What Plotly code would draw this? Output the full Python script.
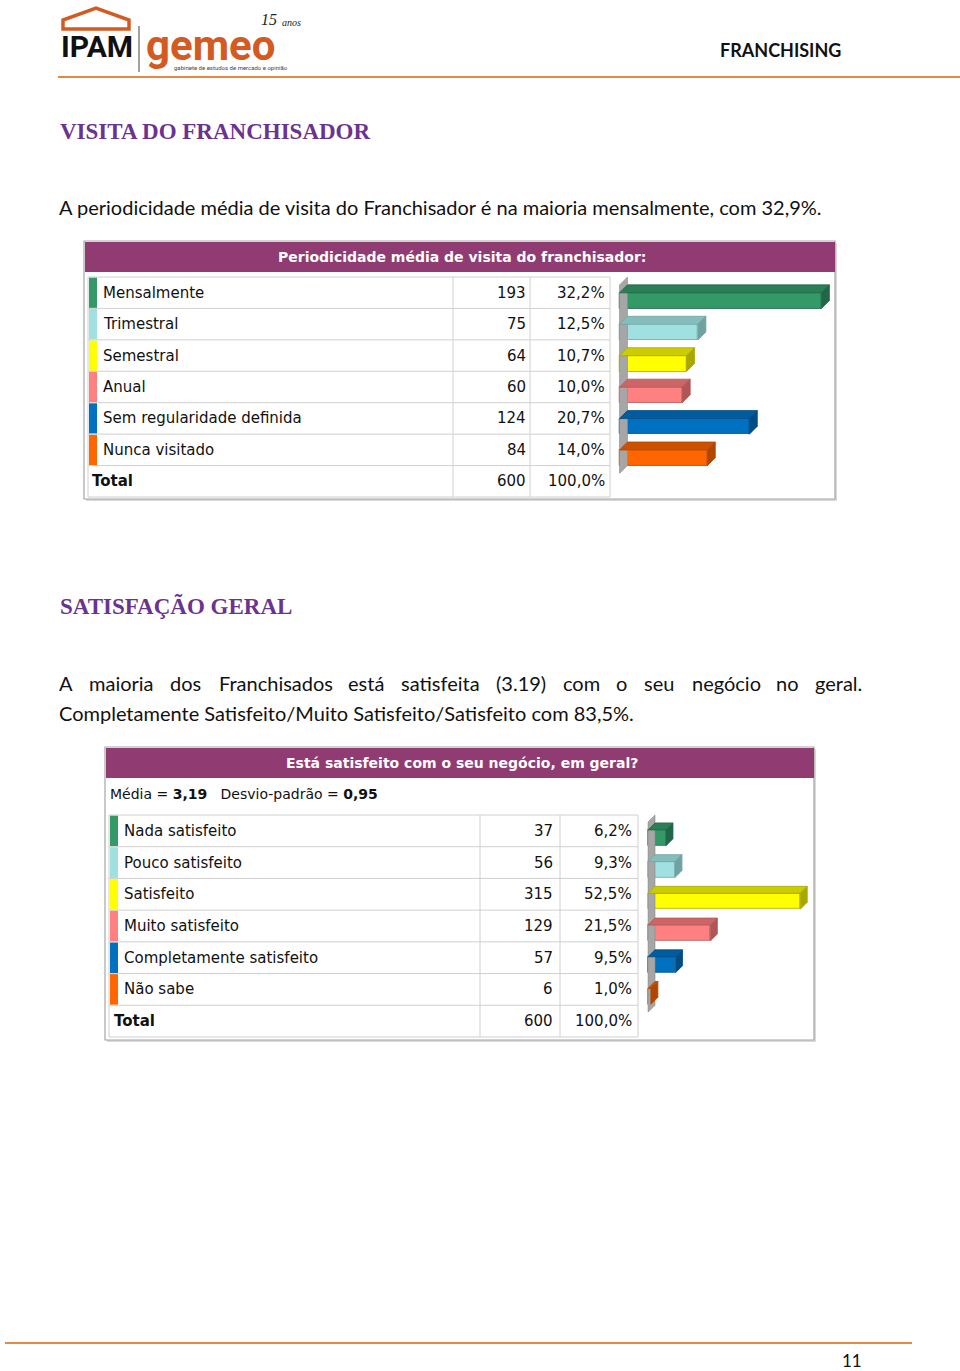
import plotly.graph_objects as go

# ---------------- DATA ----------------
visit_title = "Periodicidade média de visita do franchisador:"
visit_labels = ["Mensalmente", "Trimestral", "Semestral", "Anual",
                "Sem regularidade definida", "Nunca visitado"]
visit_counts = [193, 75, 64, 60, 124, 84]
visit_pcts = [32.2, 12.5, 10.7, 10.0, 20.7, 14.0]
visit_total = 600
visit_total_pct = 100.0

sat_title = "Está satisfeito com o seu negócio, em geral?"
sat_labels = ["Nada satisfeito", "Pouco satisfeito", "Satisfeito",
              "Muito satisfeito", "Completamente satisfeito", "Não sabe"]
sat_counts = [37, 56, 315, 129, 57, 6]
sat_pcts = [6.2, 9.3, 52.5, 21.5, 9.5, 1.0]
sat_total = 600
sat_total_pct = 100.0
sat_mean = "3,19"
sat_sd = "0,95"

# ---------------- STYLE ----------------
W, H = 960, 1371
front_colors = ["#339966", "#A0E0E0", "#FFFF00", "#FF8080", "#0070C0", "#FF6600"]
top_colors = ["#2B7F56", "#85BDBD", "#CCCC00", "#CC6666", "#005C9E", "#CC5200"]
side_colors = ["#22664A", "#6FA3A3", "#A8A800", "#B05656", "#004D85", "#B04700"]
PURPLE_HDR = "#913B73"
HEAD_PURPLE = "#6B3391"
ORANGE = "#E38B45"
LOGO_OR = "#D35B22"
TBL_FONT = "DejaVu Sans"
BODY_FONT = "Lato"

fig = go.Figure()
shapes = []
annos = []


def fmt_pct(p):
    return f"{p:.1f}".replace(".", ",") + "%"


def text(x, y, s, size=15, color="#111", family=TBL_FONT, anchor="left", bold=False):
    if bold:
        s = f"<b>{s}</b>"
    annos.append(dict(x=x, y=y, xref="x", yref="y", text=s, showarrow=False,
                      xanchor=anchor, yanchor="middle",
                      font=dict(size=size, color=color, family=family)))


def rect(x0, y0, x1, y1, fill=None, line=None, lw=1):
    shapes.append(dict(type="rect", xref="x", yref="y", x0=x0, y0=y0, x1=x1, y1=y1,
                       fillcolor=fill or "rgba(0,0,0,0)",
                       line=dict(color=line or "rgba(0,0,0,0)", width=lw if line else 0),
                       layer="below"))


def hline(x0, x1, y, color, w=1):
    shapes.append(dict(type="line", xref="x", yref="y", x0=x0, x1=x1, y0=y, y1=y,
                       line=dict(color=color, width=w)))


def vline(x, y0, y1, color, w=1):
    shapes.append(dict(type="line", xref="x", yref="y", x0=x, x1=x, y0=y0, y1=y1,
                       line=dict(color=color, width=w)))


# ---------------- HEADER / LOGO ----------------
shapes.append(dict(type="path", xref="x", yref="y",
                   path="M 63 29 L 63 20 L 96 8 L 129 20 L 129 29 Z",
                   line=dict(color=LOGO_OR, width=3.5), fillcolor="rgba(0,0,0,0)"))
text(59, 46, "IPAM", size=30, color="#111", family="Roboto", bold=True)
vline(139, 26, 72, "#444", 1)
text(144, 45, "gemeo", size=42, color=LOGO_OR, family="Roboto", bold=True)
text(172, 67, "gabinete de estudos de mercado e opinião", size=6, color="#444", family="Roboto")
text(259, 19, "<i>15</i>", size=16, color="#222", family="Liberation Serif")
text(280, 22, "<i>anos</i>", size=10, color="#222", family="Liberation Serif")
text(843, 50, "FRANCHISING", size=18, color="#111", family=BODY_FONT, anchor="right", bold=True)
hline(58, 960, 77, ORANGE, 2)

# ---------------- SECTION 1 TEXT ----------------
text(58, 131, "VISITA DO FRANCHISADOR", size=23, color=HEAD_PURPLE,
     family="Liberation Serif", bold=True)
text(57, 207, "A periodicidade média de visita do Franchisador é na maioria mensalmente, com 32,9%.",
     size=20, color="#111", family=BODY_FONT)


# ---------------- TABLE HELPER ----------------
def draw_table(box, hdr_h, title, cols, y_top, row_h, labels, counts, pcts,
               total, total_pct, strip_w, label_x, total_x, count_rx, pct_rx):
    bx0, by0, bx1, by1 = box
    rect(bx0 + 2, by0 + 2, bx1 + 2, by1 + 2, fill="#D9D9D9")
    rect(bx0, by0, bx1, by1, fill="white", line="#A6A6A6", lw=1.2)
    rect(bx0 + 1, by0 + 1, bx1, by0 + 1 + hdr_h, fill=PURPLE_HDR)
    text((bx0 + bx1) / 2 + 2, by0 + 1 + hdr_h / 2, title, size=14, color="white",
         bold=True, anchor="center")
    n = len(labels) + 1
    y_bot = y_top + n * row_h
    for k in range(n + 1):
        hline(cols[0], cols[-1], y_top + k * row_h, "#D0D0D0", 1)
    for c in cols:
        vline(c, y_top, y_bot, "#D0D0D0", 1)
    for i, lab in enumerate(labels):
        yc = y_top + (i + 0.5) * row_h
        rect(cols[0] + 1, y_top + i * row_h + 0.5, cols[0] + 1 + strip_w,
             y_top + (i + 1) * row_h - 0.5, fill=front_colors[i])
        text(label_x, yc, lab)
        text(count_rx, yc, str(counts[i]), anchor="right")
        text(pct_rx, yc, fmt_pct(pcts[i]), anchor="right")
    yc = y_top + (n - 0.5) * row_h
    text(total_x, yc, "Total", bold=True)
    text(count_rx, yc, str(total), anchor="right")
    text(pct_rx, yc, fmt_pct(total_pct), anchor="right")


# ---------------- 3D BARS HELPER ----------------
def add_bars(idx, pcts, x0_px, px_per_unit, x1_px, y_top_px, row_h_px, depth_px):
    xa, ya = f"x{idx}", f"y{idx}"
    n = len(pcts)
    dx = depth_px / px_per_unit
    dy = depth_px / row_h_px
    ext = 0.45
    xmax = (x1_px - x0_px) / px_per_unit
    xpad = 0.3
    fig.layout[f"xaxis{idx}"] = dict(
        domain=[(x0_px - xpad * px_per_unit) / W, x1_px / W],
        range=[-xpad, xmax], visible=False, fixedrange=True, anchor=ya)
    top_px = y_top_px - ext * row_h_px
    bot_px = y_top_px + n * row_h_px
    fig.layout[f"yaxis{idx}"] = dict(
        domain=[1 - bot_px / H, 1 - top_px / H],
        range=[n - 0.5, -0.5 - ext], visible=False, fixedrange=True, anchor=xa)
    # back wall
    fig.add_trace(go.Scatter(
        x=[0, dx, dx, 0, 0], y=[-0.5, -0.5 - dy, n - 0.5 - dy, n - 0.5, -0.5],
        fill="toself", fillcolor="#A6A6A6", mode="lines",
        line=dict(color="#8C8C8C", width=0.6), xaxis=xa, yaxis=ya,
        hoverinfo="skip", showlegend=False))
    # front faces
    fig.add_trace(go.Bar(
        x=pcts, y=list(range(n)), orientation="h", width=0.5,
        marker=dict(color=front_colors[:n], line=dict(color=side_colors[:n], width=0.8)),
        xaxis=xa, yaxis=ya, showlegend=False, hoverinfo="skip"))
    for i, v in enumerate(pcts):
        t, b = i - 0.25, i + 0.25
        fig.add_trace(go.Scatter(
            x=[0, v, v + dx, dx, 0], y=[t, t, t - dy, t - dy, t],
            fill="toself", fillcolor=top_colors[i], mode="lines",
            line=dict(color=side_colors[i], width=0.8), xaxis=xa, yaxis=ya,
            hoverinfo="skip", showlegend=False))
        fig.add_trace(go.Scatter(
            x=[v, v + dx, v + dx, v, v], y=[t, t - dy, b - dy, b, t],
            fill="toself", fillcolor=side_colors[i], mode="lines",
            line=dict(color=side_colors[i], width=0.8), xaxis=xa, yaxis=ya,
            hoverinfo="skip", showlegend=False))


# ---------------- TABLE 1 ----------------
row_h1 = (497 - 277) / 7
draw_table((84, 241, 835, 499), 30, visit_title, [88, 453, 530, 610], 277, row_h1,
           visit_labels, visit_counts, visit_pcts, visit_total, visit_total_pct,
           8, 101, 90, 528, 607)
add_bars(2, visit_pcts, 619.5, 6.27, 834, 285, row_h1, 8)

# ---------------- SECTION 2 TEXT ----------------
text(58, 606, "SATISFAÇÃO GERAL", size=23, color=HEAD_PURPLE,
     family="Liberation Serif", bold=True)
para_words = ["A", "maioria", "dos", "Franchisados", "está", "satisfeita", "(3.19)",
              "com", "o", "seu", "negócio", "no", "geral."]
para_x = [57, 87, 168, 217, 346, 399, 494, 561, 614, 642, 690, 774, 813]
for wd, xx in zip(para_words, para_x):
    text(xx, 683, wd, size=20, color="#111", family=BODY_FONT)
text(57, 713, "Completamente Satisfeito/Muito Satisfeito/Satisfeito com 83,5%.",
     size=20, color="#111", family=BODY_FONT)

# ---------------- TABLE 2 ----------------
row_h2 = (1037 - 815) / 7
draw_table((105, 747, 814, 1040), 30, sat_title, [109, 480, 560, 638], 815, row_h2,
           sat_labels, sat_counts, sat_pcts, sat_total, sat_total_pct,
           8, 122, 112, 555, 634)
text(108, 794, f"Média = <b>{sat_mean}</b>   Desvio-padrão = <b>{sat_sd}</b>", size=14)
add_bars(3, sat_pcts, 648, 2.9, 813, 822, row_h2, 7)

# ---------------- FOOTER ----------------
hline(5, 912, 1343, ORANGE, 2)
text(852, 1360, "11", size=17, color="#111", family=BODY_FONT, anchor="center")

fig.update_layout(
    width=W, height=H, margin=dict(l=0, r=0, t=0, b=0),
    paper_bgcolor="white", plot_bgcolor="rgba(0,0,0,0)",
    xaxis=dict(range=[0, W], domain=[0, 1], visible=False, fixedrange=True),
    yaxis=dict(range=[H, 0], domain=[0, 1], visible=False, fixedrange=True),
    shapes=shapes, annotations=annos, showlegend=False, bargap=0,
)
fig.write_html("out.html", config={"displayModeBar": False},
               post_script="document.body.style.margin='0px';")
